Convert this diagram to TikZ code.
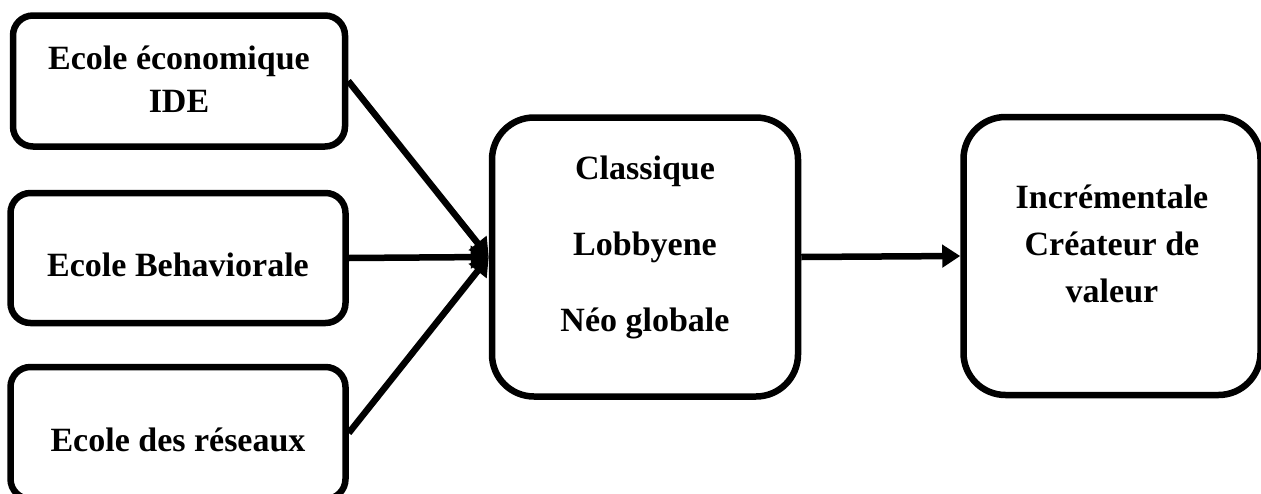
\documentclass[tikz,border=0pt]{standalone}
\usepackage{fontspec}
\setmainfont{Liberation Serif}
\usetikzlibrary{arrows.meta}
\newcommand{\shiftup}[2]{\raisebox{#1}[\height][\depth]{#2}}
\begin{document}
\begin{tikzpicture}[x=1pt,y=-1pt,
  box/.style={draw=black,line width=6.5pt,fill=white,align=center,font=\fontsize{34}{43}\selectfont\bfseries,inner sep=0pt},
  conn/.style={line width=6.5pt,-{Triangle[length=18pt,width=22pt]}}]
\useasboundingbox (0,0) rectangle (1261,493);
\node[box,rounded corners=20pt,minimum width=332pt,minimum height=131pt] (ide) at (179,81) {\shiftup{2pt}{\parbox{320pt}{\centering\fontsize{34}{43}\selectfont\bfseries Ecole économique\\IDE}}};
\node[box,rounded corners=20pt,minimum width=335pt,minimum height=130pt] (beh) at (178,258) {\shiftup{-7pt}{Ecole Behaviorale}};
\node[box,rounded corners=20pt,minimum width=335pt,minimum height=132pt] (res) at (178,433) {\shiftup{-7pt}{Ecole des réseaux}};
\node[box,rounded corners=42pt,minimum width=306pt,minimum height=279pt] (mid) at (645,257) {\shiftup{10pt}{\parbox{280pt}{\centering\fontsize{34}{76}\selectfont\bfseries Classique\\Lobbyene\\Néo globale}}};
\node[box,rounded corners=42pt,minimum width=297pt,minimum height=278pt] (out) at (1112,256) {\shiftup{12pt}{\parbox{280pt}{\centering\fontsize{34}{47}\selectfont\bfseries Incrémentale\\Créateur de\\valeur}}};
\draw[conn] (ide.east) -- (mid.west);
\draw[conn] (beh.east) -- (mid.west);
\draw[conn] (res.east) -- (mid.west);
\draw[conn] (mid.east) -- (out.west);
\end{tikzpicture}
\end{document}
